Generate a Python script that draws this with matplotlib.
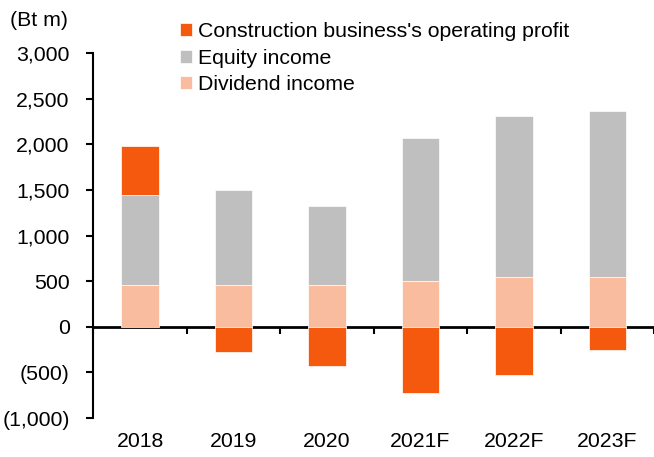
import matplotlib
matplotlib.use("Agg")
import matplotlib.pyplot as plt
from matplotlib.ticker import FuncFormatter
import numpy as np

plt.rcParams["font.family"] = ["Liberation Sans", "DejaVu Sans"]
plt.rcParams["font.size"] = 15.3

years = ["2018", "2019", "2020", "2021F", "2022F", "2023F"]
dividend = [460, 460, 460, 500, 545, 545]
equity = [980, 1042, 859, 1569, 1765, 1823]
construction = [545, -274, -431, -731, -534, -255]

c_cons = "#F4590E"
c_eq = "#BFBFBF"
c_div = "#FABC9F"

fig = plt.figure(figsize=(6.54, 4.57), dpi=100)
ax = fig.add_axes([93.3 / 654, 39 / 457, 1 - 93.3 / 654, 365 / 457])

x = np.arange(len(years))
w = 0.4
div = np.array(dividend)
eq = np.array(equity)
cons = np.array(construction)
cons_bottom = np.where(cons > 0, div + eq, 0)

ax.bar(x, div, w, color=c_div, edgecolor="white", linewidth=0.5, label="Dividend income", zorder=2)
ax.bar(x, eq, w, bottom=div, color=c_eq, edgecolor="white", linewidth=0.5, label="Equity income", zorder=2)
ax.bar(x, cons, w, bottom=cons_bottom, color=c_cons, edgecolor="white", linewidth=0.5,
       label="Construction business's operating profit", zorder=2)

ax.set_xlim(-0.5, 5.5)
ax.set_ylim(-1000, 3000)
ax.set_yticks(np.arange(-1000, 3001, 500))
ax.yaxis.set_major_formatter(FuncFormatter(lambda v, p: f"({abs(v):,.0f})" if v < 0 else f"{v:,.0f}"))
ax.tick_params(axis="y", length=5, width=1.5, pad=12)

ax.set_xticks(x)
ax.set_xticklabels(years)
ax.tick_params(axis="x", length=0, pad=10)

for s in ["top", "right", "bottom"]:
    ax.spines[s].set_visible(False)
ax.spines["left"].set_linewidth(1.5)

# zero line with category boundary ticks
sec = ax.secondary_xaxis(0.25)
sec.set_xticks(np.arange(-0.5, 6, 1))
sec.set_xticklabels([])
sec.tick_params(length=5, width=1.5)
sec.spines["bottom"].set_linewidth(2)

fig.text(10 / 654, 1 - 20 / 457, "(Bt m)", ha="left", va="center")

h, l = ax.get_legend_handles_labels()
ax.legend(h[::-1], l[::-1], loc="upper left", bbox_to_anchor=(180 / 654, 1 - 22 / 457),
          bbox_transform=fig.transFigure, frameon=False, handlelength=0.55, handleheight=0.55,
          handletextpad=0.3, labelspacing=0.36, borderpad=0, borderaxespad=0)

fig.savefig("out.png", dpi=100)
